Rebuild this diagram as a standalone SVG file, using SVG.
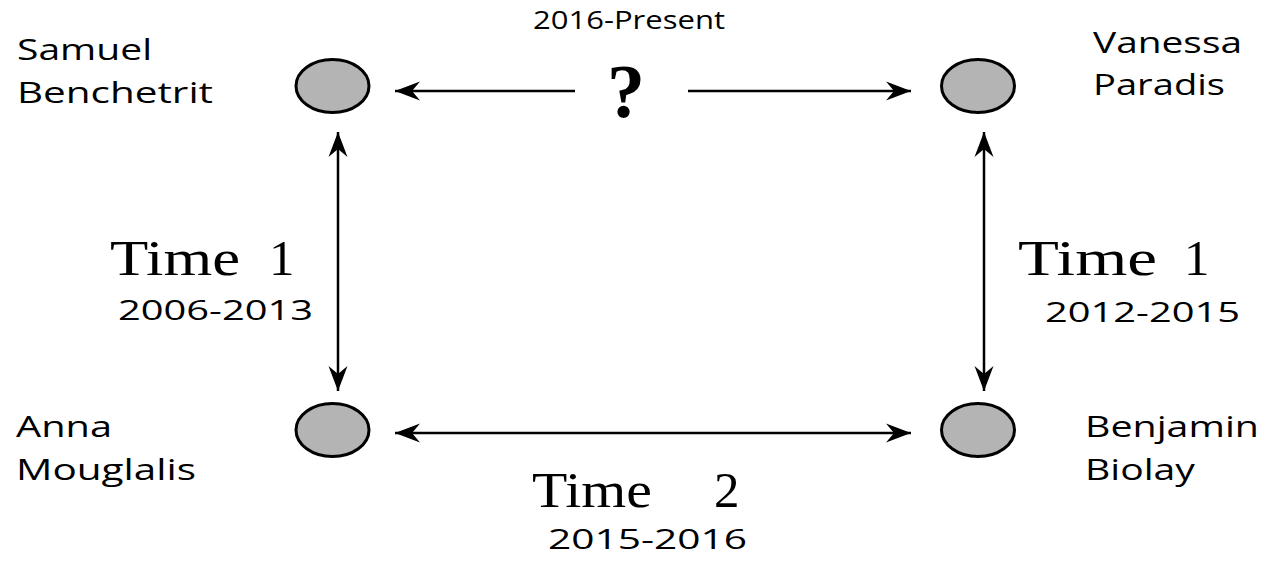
<svg xmlns="http://www.w3.org/2000/svg" width="1266" height="561" viewBox="0 0 1266 561">
<defs>
<style>
.node{fill:#b4b4b4;stroke:#000;stroke-width:3}
.lbl{font-family:"Open Sans","Liberation Sans",sans-serif;font-size:30px;fill:#000}
.time{font-family:"Liberation Serif","Times New Roman",serif;font-size:51px;fill:#000}
.edge{stroke:#000;stroke-width:2.5;fill:none}
</style>
<marker id="ah" markerUnits="userSpaceOnUse" viewBox="-26 -10 28 20" refX="0" refY="0" markerWidth="28" markerHeight="20" orient="auto-start-reverse">
<path d="M0,0 L-25,-9.5 L-17,0 L-25,9.5 Z" fill="#000"/>
</marker>
</defs>
<rect width="1266" height="561" fill="#fff"/>
<g id="connectors">
<line class="edge" x1="575" y1="91" x2="395" y2="91" marker-end="url(#ah)"/>
<line class="edge" x1="688" y1="91" x2="911" y2="91" marker-end="url(#ah)"/>
<line class="edge" x1="338" y1="132" x2="338" y2="391" marker-start="url(#ah)" marker-end="url(#ah)"/>
<line class="edge" x1="984" y1="132" x2="984" y2="391" marker-start="url(#ah)" marker-end="url(#ah)"/>
<line class="edge" x1="395" y1="433" x2="911" y2="433" marker-start="url(#ah)" marker-end="url(#ah)"/>
</g>
<g id="samuel">
<ellipse class="node" cx="332.5" cy="86" rx="36.5" ry="26.5"/>
<text class="lbl" x="17" y="60" textLength="135" lengthAdjust="spacingAndGlyphs">Samuel</text>
<text class="lbl" x="17" y="103" textLength="196" lengthAdjust="spacingAndGlyphs">Benchetrit</text>
</g>
<g id="vanessa">
<ellipse class="node" cx="978" cy="86" rx="36.5" ry="26.5"/>
<text class="lbl" x="1093" y="53" textLength="149" lengthAdjust="spacingAndGlyphs">Vanessa</text>
<text class="lbl" x="1093" y="95" textLength="132" lengthAdjust="spacingAndGlyphs">Paradis</text>
</g>
<g id="anna">
<ellipse class="node" cx="332.5" cy="430" rx="36.5" ry="26.5"/>
<text class="lbl" x="16" y="437" textLength="96" lengthAdjust="spacingAndGlyphs">Anna</text>
<text class="lbl" x="16" y="480" textLength="180" lengthAdjust="spacingAndGlyphs">Mouglalis</text>
</g>
<g id="benjamin">
<ellipse class="node" cx="978" cy="430" rx="36.5" ry="26.5"/>
<text class="lbl" x="1085" y="437" textLength="174" lengthAdjust="spacingAndGlyphs">Benjamin</text>
<text class="lbl" x="1085" y="480" textLength="110" lengthAdjust="spacingAndGlyphs">Biolay</text>
</g>
<g id="labels">
<text class="lbl" x="533" y="29" style="font-size:26px" textLength="192" lengthAdjust="spacingAndGlyphs">2016-Present</text>
<text x="626" y="117" text-anchor="middle" style="font-family:'Liberation Serif',serif;font-weight:bold;font-size:76px;fill:#000">?</text>
<text class="time" x="110" y="275"><tspan textLength="130" lengthAdjust="spacingAndGlyphs">Time</tspan><tspan x="269">1</tspan></text>
<text class="lbl" x="118" y="320" style="font-size:28px" textLength="195" lengthAdjust="spacingAndGlyphs">2006-2013</text>
<text class="time" x="1018" y="275"><tspan textLength="139" lengthAdjust="spacingAndGlyphs">Time</tspan><tspan x="1184">1</tspan></text>
<text class="lbl" x="1045" y="322" style="font-size:28px" textLength="195" lengthAdjust="spacingAndGlyphs">2012-2015</text>
<text class="time" x="532" y="507"><tspan textLength="120" lengthAdjust="spacingAndGlyphs">Time</tspan><tspan x="714">2</tspan></text>
<text class="lbl" x="548" y="549" style="font-size:28px" textLength="199" lengthAdjust="spacingAndGlyphs">2015-2016</text>
</g>
</svg>
